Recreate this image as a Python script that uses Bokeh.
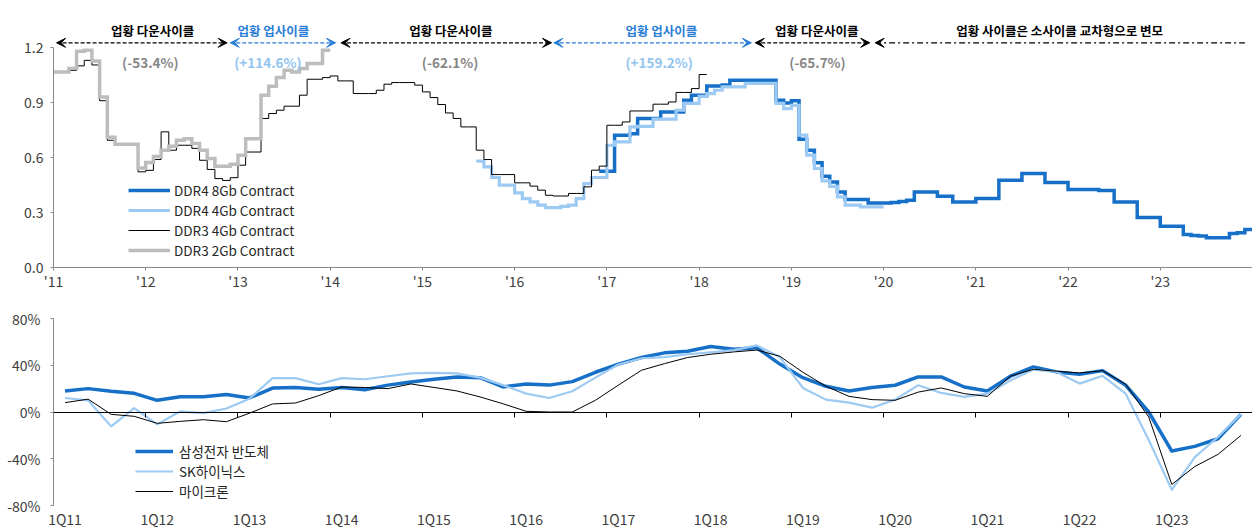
from bokeh.plotting import figure
from bokeh.models import (Range1d, FixedTicker, PrintfTickFormatter, Legend, LegendItem,
                          Label, Arrow, VeeHead, LinearAxis)
from bokeh.layouts import column
from bokeh.embed import file_html
from bokeh.resources import INLINE

FONT = "Noto Sans CJK KR"

# ---------------- top chart data (x = months since Jan 2011) ----------------
year_ticks = [0, 12, 24, 36, 48, 60, 72, 84, 96, 108, 120, 132, 144, 156]
year_labels = ["'11", "'12", "'13", "'14", "'15", "'16", "'17", "'18", "'19",
               "'20", "'21", "'22", "'23", ""]

ddr4_8gb_start = 71
ddr4_8gb = [0.525, 0.525, 0.722, 0.722, 0.73, 0.813, 0.813, 0.813, 0.849, 0.849,
            0.849, 0.913, 0.94, 0.94, 0.99, 0.99, 0.995, 1.022, 1.022, 1.022,
            1.022, 1.022, 1.022, 0.913, 0.898, 0.91, 0.70, 0.64, 0.571, 0.498,
            0.467, 0.412, 0.371, 0.371, 0.371, 0.352, 0.352, 0.352, 0.355, 0.36,
            0.367, 0.412, 0.412, 0.412, 0.389, 0.389, 0.358, 0.358, 0.358, 0.376,
            0.376, 0.376, 0.476, 0.476, 0.476, 0.513, 0.513, 0.513, 0.464, 0.464,
            0.464, 0.425, 0.425, 0.425, 0.425, 0.42, 0.42, 0.358, 0.358, 0.358,
            0.273, 0.273, 0.273, 0.225, 0.225, 0.225, 0.18, 0.175, 0.172, 0.162,
            0.162, 0.162, 0.185, 0.19, 0.207]

ddr4_4gb_start = 55
ddr4_4gb = [0.58, 0.549, 0.491, 0.449, 0.449, 0.407, 0.376, 0.358, 0.34, 0.327,
            0.327, 0.333, 0.34, 0.376, 0.458, 0.491, 0.491, 0.667, 0.685, 0.685,
            0.767, 0.77, 0.77, 0.81, 0.81, 0.81, 0.858, 0.895, 0.895, 0.934,
            0.949, 0.967, 0.985, 0.985, 0.985, 1.004, 1.004, 1.004, 1.004, 0.895,
            0.867, 0.885, 0.722, 0.613, 0.54, 0.473, 0.443, 0.385, 0.34, 0.34,
            0.331, 0.331, 0.331]

ddr3_4gb_start = 0
ddr3_4gb = [1.067, 1.067, 1.075, 1.10, 1.13, 1.105, 0.91, 0.694, 0.667, 0.667,
            0.667, 0.522, 0.53, 0.589, 0.74, 0.64, 0.667, 0.667, 0.65, 0.585,
            0.535, 0.485, 0.475, 0.49, 0.558, 0.63, 0.63, 0.813, 0.84, 0.858,
            0.88, 0.88, 0.94, 1.027, 1.027, 1.036, 1.045, 1.018, 1.018, 0.949,
            0.949, 0.949, 0.967, 1.0, 1.009, 1.009, 1.009, 0.995, 0.958, 0.927,
            0.889, 0.843, 0.813, 0.767, 0.767, 0.64, 0.589, 0.507, 0.507, 0.507,
            0.462, 0.462, 0.444, 0.422, 0.394, 0.39, 0.39, 0.404, 0.404, 0.44,
            0.531, 0.553, 0.776, 0.776, 0.794, 0.854, 0.854, 0.854, 0.891, 0.891,
            0.903, 0.955, 0.955, 0.976, 1.053]

ddr3_2gb_start = 0
ddr3_2gb = [1.067, 1.067, 1.085, 1.18, 1.185, 1.127, 0.93, 0.71, 0.673, 0.673,
            0.673, 0.543, 0.573, 0.605, 0.64, 0.662, 0.694, 0.703, 0.676, 0.64,
            0.595, 0.552, 0.552, 0.563, 0.613, 0.703, 0.703, 0.94, 0.989, 1.036,
            1.076, 1.067, 1.085, 1.113, 1.113, 1.185]

# cycle annotations
cycle_text = ["업황 다운사이클", "업황 업사이클", "업황 다운사이클", "업황 업사이클",
              "업황 다운사이클", "업황 사이클은 소사이클 교차형으로 변모"]
cycle_kind = ["down", "up", "down", "up", "down", "mixed"]
change_text = ["(-53.4%)", "(+114.6%)", "(-62.1%)", "(+159.2%)", "(-65.7%)"]
change_kind = ["down", "up", "down", "up", "down"]

# ---------------- bottom chart data (quarterly operating margin, %) ----------------
quarters = [f"{q}Q{y:02d}" for y in range(11, 24) for q in range(1, 5)]
q_tick_labels = ["1Q11", "1Q12", "1Q13", "1Q14", "1Q15", "1Q16", "1Q17",
                 "1Q18", "1Q19", "1Q20", "1Q21", "1Q22", "1Q23"]
samsung = [18, 20, 17.7, 16, 10, 13, 13, 15, 12, 20.5, 21, 19.4, 21, 19, 23, 25.7,
           28, 30, 29.4, 21.4, 24, 23, 26, 34, 41, 46.6, 50.6, 52, 56, 53.7, 55, 41,
           29.4, 22, 18, 20.9, 22.9, 30, 30, 21.4, 18, 30.6, 38.6, 34.3, 32.3, 35.4,
           22.9, 0, -33.4, -29.4, -22.9, -2]
hynix = [12, 10, -12.3, 3.4, -10.6, 0.6, -1, 3, 11.4, 29, 29, 23.7, 29, 28, 30.6, 33,
         33.4, 33, 29.4, 23, 15.7, 12, 17.7, 29.4, 40.6, 46, 47, 49.4, 51, 53, 57, 47,
         20.6, 10.6, 8, 3.7, 10.6, 22.9, 16.3, 12.9, 15.7, 27, 36.3, 34.3, 24.3, 31,
         15.7, -24, -66.6, -38.6, -21.4, -2]
micron = [8, 11, -2, -3.7, -9.7, -8, -6.6, -8.3, -1, 6.9, 7.7, 14, 21.4, 21, 20, 24,
          21, 18, 12.9, 7, 0.6, 0, 0, 10, 23, 35.7, 41.4, 46.6, 49.4, 51.4, 53, 47.7,
          34, 22, 13.4, 10.6, 10, 17, 20.6, 15.7, 13.4, 30.6, 36.6, 34.9, 33.4, 35.4,
          23.7, -4.3, -62, -46.6, -36.3, -20]

# ---------------- styles ----------------
DARK_BLUE = "#1670c8"
LIGHT_BLUE = "#9dcaf2"
GRAY = "#bdbdbd"
BLUE_TXT = "#2a7ed6"
PCT_GRAY = "#868686"
PCT_BLUE = "#92c4f0"
AXIS_GRAY = "#8a8a8a"
TICK_TXT = "#404040"

PX_PER_UNIT = 183.3          # pixels per 1 dollar on the top chart
TOP_FRAME_H = 267            # top plot frame height (px)
TOP_AXIS_H = 26
BOT_TOP_BORDER = 25
BOT_FRAME_H = 187
BOT_AXIS_H = 26

# annotation positions (months since Jan 2011 / screen offsets converted to price units)
cycle_from = [0.4, 23.0, 37.4, 65.1, 91.3, 106.9]
cycle_to = [22.6, 36.7, 64.8, 90.8, 106.2, 155.0]
cycle_text_x = [12.9, 28.6, 51.7, 79.1, 99.3, 130.9]
change_x = [12.6, 27.9, 51.6, 78.8, 99.4]
ARROW_Y = (TOP_FRAME_H - 42.3) / PX_PER_UNIT
TITLE_Y = (TOP_FRAME_H - 30) / PX_PER_UNIT
CHANGE_Y = (TOP_FRAME_H - 61.5) / PX_PER_UNIT
UNIT_Y = (TOP_FRAME_H - 16) / PX_PER_UNIT


def style_axis(ax, font_size="14px"):
    ax.axis_line_color = AXIS_GRAY
    ax.major_tick_line_color = AXIS_GRAY
    ax.minor_tick_line_color = None
    ax.major_tick_in = 0
    ax.major_tick_out = 3
    ax.major_label_text_font = FONT
    ax.major_label_text_font_size = font_size
    ax.major_label_text_color = TICK_TXT


def step_xy(start, vals):
    xs = list(range(start, start + len(vals) + 1))
    ys = list(vals) + [vals[-1]]
    return xs, ys


# ================= top figure =================
p1 = figure(width=1252, height=TOP_FRAME_H + TOP_AXIS_H, output_backend="svg",
            toolbar_location=None,
            x_range=Range1d(0, 156), y_range=Range1d(0, TOP_FRAME_H / PX_PER_UNIT),
            min_border_left=53, min_border_right=0, min_border_top=0,
            min_border_bottom=TOP_AXIS_H)
p1.outline_line_color = None
p1.xgrid.visible = False
p1.ygrid.visible = False

xs, ys = step_xy(ddr4_8gb_start, ddr4_8gb)
r_8 = p1.step(x=xs, y=ys, mode="after", line_color=DARK_BLUE, line_width=3.5,
              line_join="miter")
xs, ys = step_xy(ddr4_4gb_start, ddr4_4gb)
r_4 = p1.step(x=xs, y=ys, mode="after", line_color=LIGHT_BLUE, line_width=3.2,
              line_join="miter")
xs, ys = step_xy(ddr3_4gb_start, ddr3_4gb)
r_34 = p1.step(x=xs, y=ys, mode="after", line_color="black", line_width=1,
               line_join="miter")
xs, ys = step_xy(ddr3_2gb_start, ddr3_2gb)
r_32 = p1.step(x=xs, y=ys, mode="after", line_color=GRAY, line_width=3.5,
               line_join="miter")

xa = p1.xaxis[0]
style_axis(xa)
xa.ticker = FixedTicker(ticks=year_ticks)
xa.major_label_overrides = {t: l for t, l in zip(year_ticks, year_labels)}
xa.major_label_standoff = 0

ya = p1.yaxis[0]
style_axis(ya)
ya.ticker = FixedTicker(ticks=[0, 0.3, 0.6, 0.9, 1.2])
ya.formatter = PrintfTickFormatter(format="%.1f")
ya.bounds = (0, 1.2)
ya.major_label_standoff = 7

leg1 = Legend(items=[LegendItem(label="DDR4 8Gb Contract", renderers=[r_8]),
                     LegendItem(label="DDR4 4Gb Contract", renderers=[r_4]),
                     LegendItem(label="DDR3 4Gb Contract", renderers=[r_34]),
                     LegendItem(label="DDR3 2Gb Contract", renderers=[r_32])],
              location=(75, 7), orientation="vertical", padding=0, margin=0,
              spacing=0, border_line_color=None, background_fill_alpha=0,
              label_height=20, glyph_height=20, glyph_width=42, label_standoff=4,
              label_text_font=FONT, label_text_font_size="13.5px",
              label_text_color="#262626")
p1.add_layout(leg1)

for x0, x1, tx, txt, kind in zip(cycle_from, cycle_to, cycle_text_x, cycle_text, cycle_kind):
    col = BLUE_TXT if kind == "up" else "black"
    dash = "6 3 2 3" if kind == "mixed" else "4 2"
    end_head = None if kind == "mixed" else VeeHead(size=9, fill_color=col, line_color=col)
    p1.add_layout(Arrow(x_start=x0, y_start=ARROW_Y, x_end=x1, y_end=ARROW_Y,
                        start=VeeHead(size=9, fill_color=col, line_color=col),
                        end=end_head, line_color=col, line_width=1.3, line_dash=dash))
    p1.add_layout(Label(x=tx, y=TITLE_Y, text=txt, text_align="center",
                        text_baseline="middle", text_font=FONT, text_font_size="12.5px",
                        text_font_style="bold", text_color=col))

for cx, txt, kind in zip(change_x, change_text, change_kind):
    col = PCT_BLUE if kind == "up" else PCT_GRAY
    p1.add_layout(Label(x=cx, y=CHANGE_Y, text=txt, text_align="center",
                        text_baseline="middle", text_font=FONT, text_font_size="13.5px",
                        text_font_style="bold", text_color=col))

p1.add_layout(Label(x=-3.5, y=UNIT_Y, text="(달러)", text_align="center",
                    text_baseline="middle", text_font=FONT, text_font_size="13px",
                    text_color=TICK_TXT))

# ================= bottom figure =================
qx = list(range(len(quarters)))
p2 = figure(width=1252, height=BOT_TOP_BORDER + BOT_FRAME_H + BOT_AXIS_H,
            output_backend="svg", toolbar_location=None,
            x_range=Range1d(-0.5, len(quarters) - 0.5), y_range=Range1d(-80, 80),
            min_border_left=50, min_border_right=0, min_border_top=BOT_TOP_BORDER,
            min_border_bottom=BOT_AXIS_H)
p2.outline_line_color = None
p2.xgrid.visible = False
p2.ygrid.visible = False

r_s = p2.line(x=qx, y=samsung, line_color=DARK_BLUE, line_width=3.5, line_join="round")
r_h = p2.line(x=qx, y=hynix, line_color=LIGHT_BLUE, line_width=2.2, line_join="round")
r_m = p2.line(x=qx, y=micron, line_color="black", line_width=1, line_join="round")

bx = p2.xaxis[0]
style_axis(bx)
bx.axis_line_color = None
bx.major_tick_line_color = None
bx.major_tick_out = 0
bx.ticker = FixedTicker(ticks=[quarters.index(l) for l in q_tick_labels])
bx.major_label_overrides = {quarters.index(l): l for l in q_tick_labels}
bx.major_label_standoff = 3

by = p2.yaxis[0]
style_axis(by)
by.ticker = FixedTicker(ticks=[-80, -40, 0, 40, 80])
by.formatter = PrintfTickFormatter(format="%d%%")
by.bounds = (-80, 80)
by.major_label_standoff = 10

zero_axis = LinearAxis(fixed_location=0,
                       ticker=FixedTicker(ticks=[quarters.index(l) - 0.5 for l in q_tick_labels[1:]]
                                          + [len(quarters) - 0.5]),
                       axis_line_color="black", axis_line_width=1,
                       major_tick_line_color="black", major_tick_in=0, major_tick_out=5,
                       minor_tick_line_color=None, major_label_text_font_size="0px",
                       major_label_text_alpha=0)
p2.add_layout(zero_axis, "below")

leg2 = Legend(items=[LegendItem(label="삼성전자 반도체", renderers=[r_s]),
                     LegendItem(label="SK하이닉스", renderers=[r_h]),
                     LegendItem(label="마이크론", renderers=[r_m])],
              location=(82, 4), orientation="vertical", padding=0, margin=0,
              spacing=0, border_line_color=None, background_fill_alpha=0,
              label_height=20, glyph_height=20, glyph_width=38, label_standoff=6,
              label_text_font=FONT, label_text_font_size="13.5px",
              label_text_color="#262626")
p2.add_layout(leg2)

layout = column(p1, p2)
open("out.html", "w").write(file_html(layout, INLINE))
